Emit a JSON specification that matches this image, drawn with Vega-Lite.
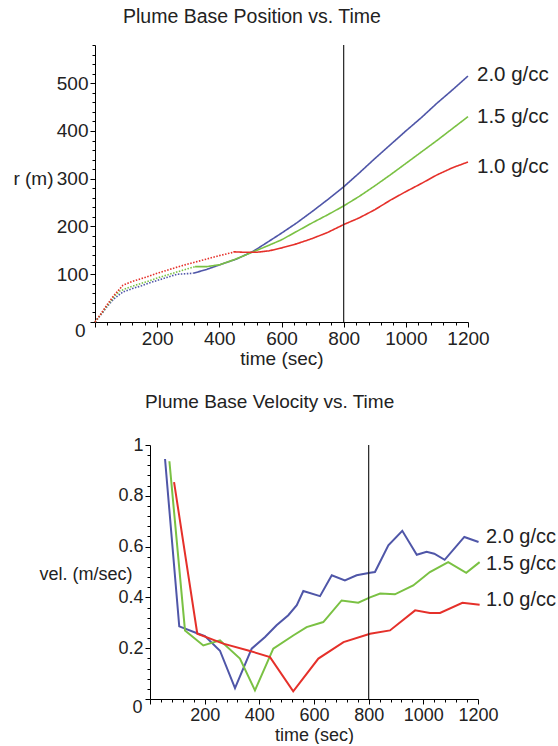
{
  "$schema": "https://vega.github.io/schema/vega-lite/v6.json",
  "padding": {"left": 12, "top": 6, "right": 0, "bottom": 0},
  "spacing": 25,
  "datasets": {
    "pos": [
      {"t": 0, "r": 0, "s": "2.0 g/cc", "seg": "dotted"},
      {"t": 20, "r": 16, "s": "2.0 g/cc", "seg": "dotted"},
      {"t": 40, "r": 33, "s": "2.0 g/cc", "seg": "dotted"},
      {"t": 60, "r": 48, "s": "2.0 g/cc", "seg": "dotted"},
      {"t": 90, "r": 63, "s": "2.0 g/cc", "seg": "dotted"},
      {"t": 120, "r": 70, "s": "2.0 g/cc", "seg": "dotted"},
      {"t": 150, "r": 76, "s": "2.0 g/cc", "seg": "dotted"},
      {"t": 190, "r": 85, "s": "2.0 g/cc", "seg": "dotted"},
      {"t": 230, "r": 93, "s": "2.0 g/cc", "seg": "dotted"},
      {"t": 264, "r": 100, "s": "2.0 g/cc", "seg": "dotted"},
      {"t": 290, "r": 101, "s": "2.0 g/cc", "seg": "dotted"},
      {"t": 316, "r": 102, "s": "2.0 g/cc", "seg": "dotted"},
      {"t": 316, "r": 102, "s": "2.0 g/cc", "seg": "solid"},
      {"t": 359, "r": 110, "s": "2.0 g/cc", "seg": "solid"},
      {"t": 402, "r": 120, "s": "2.0 g/cc", "seg": "solid"},
      {"t": 456, "r": 132, "s": "2.0 g/cc", "seg": "solid"},
      {"t": 509, "r": 148, "s": "2.0 g/cc", "seg": "solid"},
      {"t": 550, "r": 165, "s": "2.0 g/cc", "seg": "solid"},
      {"t": 600, "r": 186, "s": "2.0 g/cc", "seg": "solid"},
      {"t": 650, "r": 208, "s": "2.0 g/cc", "seg": "solid"},
      {"t": 700, "r": 232, "s": "2.0 g/cc", "seg": "solid"},
      {"t": 750, "r": 257, "s": "2.0 g/cc", "seg": "solid"},
      {"t": 800, "r": 283, "s": "2.0 g/cc", "seg": "solid"},
      {"t": 850, "r": 312, "s": "2.0 g/cc", "seg": "solid"},
      {"t": 900, "r": 342, "s": "2.0 g/cc", "seg": "solid"},
      {"t": 950, "r": 371, "s": "2.0 g/cc", "seg": "solid"},
      {"t": 1000, "r": 400, "s": "2.0 g/cc", "seg": "solid"},
      {"t": 1050, "r": 428, "s": "2.0 g/cc", "seg": "solid"},
      {"t": 1100, "r": 458, "s": "2.0 g/cc", "seg": "solid"},
      {"t": 1150, "r": 486, "s": "2.0 g/cc", "seg": "solid"},
      {"t": 1200, "r": 515, "s": "2.0 g/cc", "seg": "solid"},
      {"t": 0, "r": 0, "s": "1.5 g/cc", "seg": "dotted"},
      {"t": 20, "r": 17, "s": "1.5 g/cc", "seg": "dotted"},
      {"t": 40, "r": 35, "s": "1.5 g/cc", "seg": "dotted"},
      {"t": 60, "r": 52, "s": "1.5 g/cc", "seg": "dotted"},
      {"t": 80, "r": 65, "s": "1.5 g/cc", "seg": "dotted"},
      {"t": 120, "r": 75, "s": "1.5 g/cc", "seg": "dotted"},
      {"t": 160, "r": 83, "s": "1.5 g/cc", "seg": "dotted"},
      {"t": 200, "r": 92, "s": "1.5 g/cc", "seg": "dotted"},
      {"t": 240, "r": 100, "s": "1.5 g/cc", "seg": "dotted"},
      {"t": 280, "r": 108, "s": "1.5 g/cc", "seg": "dotted"},
      {"t": 322, "r": 116, "s": "1.5 g/cc", "seg": "dotted"},
      {"t": 322, "r": 116, "s": "1.5 g/cc", "seg": "solid"},
      {"t": 360, "r": 116, "s": "1.5 g/cc", "seg": "solid"},
      {"t": 402, "r": 120, "s": "1.5 g/cc", "seg": "solid"},
      {"t": 450, "r": 131, "s": "1.5 g/cc", "seg": "solid"},
      {"t": 509, "r": 147, "s": "1.5 g/cc", "seg": "solid"},
      {"t": 550, "r": 158, "s": "1.5 g/cc", "seg": "solid"},
      {"t": 600, "r": 172, "s": "1.5 g/cc", "seg": "solid"},
      {"t": 650, "r": 190, "s": "1.5 g/cc", "seg": "solid"},
      {"t": 700, "r": 208, "s": "1.5 g/cc", "seg": "solid"},
      {"t": 750, "r": 225, "s": "1.5 g/cc", "seg": "solid"},
      {"t": 800, "r": 243, "s": "1.5 g/cc", "seg": "solid"},
      {"t": 850, "r": 263, "s": "1.5 g/cc", "seg": "solid"},
      {"t": 900, "r": 285, "s": "1.5 g/cc", "seg": "solid"},
      {"t": 950, "r": 308, "s": "1.5 g/cc", "seg": "solid"},
      {"t": 1000, "r": 332, "s": "1.5 g/cc", "seg": "solid"},
      {"t": 1050, "r": 356, "s": "1.5 g/cc", "seg": "solid"},
      {"t": 1100, "r": 380, "s": "1.5 g/cc", "seg": "solid"},
      {"t": 1150, "r": 405, "s": "1.5 g/cc", "seg": "solid"},
      {"t": 1200, "r": 430, "s": "1.5 g/cc", "seg": "solid"},
      {"t": 0, "r": 0, "s": "1.0 g/cc", "seg": "dotted"},
      {"t": 20, "r": 18, "s": "1.0 g/cc", "seg": "dotted"},
      {"t": 40, "r": 37, "s": "1.0 g/cc", "seg": "dotted"},
      {"t": 60, "r": 55, "s": "1.0 g/cc", "seg": "dotted"},
      {"t": 90, "r": 77, "s": "1.0 g/cc", "seg": "dotted"},
      {"t": 120, "r": 85, "s": "1.0 g/cc", "seg": "dotted"},
      {"t": 160, "r": 93, "s": "1.0 g/cc", "seg": "dotted"},
      {"t": 200, "r": 102, "s": "1.0 g/cc", "seg": "dotted"},
      {"t": 240, "r": 110, "s": "1.0 g/cc", "seg": "dotted"},
      {"t": 280, "r": 118, "s": "1.0 g/cc", "seg": "dotted"},
      {"t": 320, "r": 125, "s": "1.0 g/cc", "seg": "dotted"},
      {"t": 360, "r": 132, "s": "1.0 g/cc", "seg": "dotted"},
      {"t": 400, "r": 139, "s": "1.0 g/cc", "seg": "dotted"},
      {"t": 445, "r": 146, "s": "1.0 g/cc", "seg": "dotted"},
      {"t": 445, "r": 147, "s": "1.0 g/cc", "seg": "solid"},
      {"t": 480, "r": 146, "s": "1.0 g/cc", "seg": "solid"},
      {"t": 520, "r": 146, "s": "1.0 g/cc", "seg": "solid"},
      {"t": 560, "r": 149, "s": "1.0 g/cc", "seg": "solid"},
      {"t": 600, "r": 155, "s": "1.0 g/cc", "seg": "solid"},
      {"t": 650, "r": 164, "s": "1.0 g/cc", "seg": "solid"},
      {"t": 700, "r": 175, "s": "1.0 g/cc", "seg": "solid"},
      {"t": 750, "r": 188, "s": "1.0 g/cc", "seg": "solid"},
      {"t": 800, "r": 204, "s": "1.0 g/cc", "seg": "solid"},
      {"t": 850, "r": 218, "s": "1.0 g/cc", "seg": "solid"},
      {"t": 900, "r": 235, "s": "1.0 g/cc", "seg": "solid"},
      {"t": 950, "r": 255, "s": "1.0 g/cc", "seg": "solid"},
      {"t": 1000, "r": 273, "s": "1.0 g/cc", "seg": "solid"},
      {"t": 1050, "r": 290, "s": "1.0 g/cc", "seg": "solid"},
      {"t": 1100, "r": 308, "s": "1.0 g/cc", "seg": "solid"},
      {"t": 1150, "r": 323, "s": "1.0 g/cc", "seg": "solid"},
      {"t": 1200, "r": 335, "s": "1.0 g/cc", "seg": "solid"}
    ],
    "poslab": [
      {"t": 1200, "r": 517, "s": "2.0 g/cc"},
      {"t": 1200, "r": 429, "s": "1.5 g/cc"},
      {"t": 1200, "r": 325, "s": "1.0 g/cc"}
    ],
    "vel": [
      {"t": 55, "v": 0.945, "s": "2.0 g/cc"},
      {"t": 107, "v": 0.286, "s": "2.0 g/cc"},
      {"t": 177, "v": 0.257, "s": "2.0 g/cc"},
      {"t": 201, "v": 0.248, "s": "2.0 g/cc"},
      {"t": 256, "v": 0.19, "s": "2.0 g/cc"},
      {"t": 311, "v": 0.043, "s": "2.0 g/cc"},
      {"t": 372, "v": 0.198, "s": "2.0 g/cc"},
      {"t": 421, "v": 0.244, "s": "2.0 g/cc"},
      {"t": 463, "v": 0.29, "s": "2.0 g/cc"},
      {"t": 506, "v": 0.33, "s": "2.0 g/cc"},
      {"t": 537, "v": 0.369, "s": "2.0 g/cc"},
      {"t": 561, "v": 0.425, "s": "2.0 g/cc"},
      {"t": 622, "v": 0.405, "s": "2.0 g/cc"},
      {"t": 665, "v": 0.487, "s": "2.0 g/cc"},
      {"t": 713, "v": 0.467, "s": "2.0 g/cc"},
      {"t": 756, "v": 0.487, "s": "2.0 g/cc"},
      {"t": 805, "v": 0.497, "s": "2.0 g/cc"},
      {"t": 823, "v": 0.5, "s": "2.0 g/cc"},
      {"t": 872, "v": 0.605, "s": "2.0 g/cc"},
      {"t": 923, "v": 0.662, "s": "2.0 g/cc"},
      {"t": 976, "v": 0.568, "s": "2.0 g/cc"},
      {"t": 1012, "v": 0.58, "s": "2.0 g/cc"},
      {"t": 1040, "v": 0.572, "s": "2.0 g/cc"},
      {"t": 1078, "v": 0.548, "s": "2.0 g/cc"},
      {"t": 1150, "v": 0.638, "s": "2.0 g/cc"},
      {"t": 1202, "v": 0.618, "s": "2.0 g/cc"},
      {"t": 71, "v": 0.936, "s": "1.5 g/cc"},
      {"t": 128, "v": 0.27, "s": "1.5 g/cc"},
      {"t": 195, "v": 0.211, "s": "1.5 g/cc"},
      {"t": 256, "v": 0.231, "s": "1.5 g/cc"},
      {"t": 329, "v": 0.159, "s": "1.5 g/cc"},
      {"t": 384, "v": 0.034, "s": "1.5 g/cc"},
      {"t": 451, "v": 0.198, "s": "1.5 g/cc"},
      {"t": 524, "v": 0.25, "s": "1.5 g/cc"},
      {"t": 573, "v": 0.283, "s": "1.5 g/cc"},
      {"t": 634, "v": 0.303, "s": "1.5 g/cc"},
      {"t": 701, "v": 0.388, "s": "1.5 g/cc"},
      {"t": 762, "v": 0.379, "s": "1.5 g/cc"},
      {"t": 805, "v": 0.4, "s": "1.5 g/cc"},
      {"t": 842, "v": 0.415, "s": "1.5 g/cc"},
      {"t": 896, "v": 0.412, "s": "1.5 g/cc"},
      {"t": 963, "v": 0.447, "s": "1.5 g/cc"},
      {"t": 1024, "v": 0.5, "s": "1.5 g/cc"},
      {"t": 1091, "v": 0.539, "s": "1.5 g/cc"},
      {"t": 1157, "v": 0.497, "s": "1.5 g/cc"},
      {"t": 1206, "v": 0.539, "s": "1.5 g/cc"},
      {"t": 88, "v": 0.854, "s": "1.0 g/cc"},
      {"t": 173, "v": 0.257, "s": "1.0 g/cc"},
      {"t": 268, "v": 0.218, "s": "1.0 g/cc"},
      {"t": 366, "v": 0.189, "s": "1.0 g/cc"},
      {"t": 439, "v": 0.165, "s": "1.0 g/cc"},
      {"t": 524, "v": 0.03, "s": "1.0 g/cc"},
      {"t": 616, "v": 0.159, "s": "1.0 g/cc"},
      {"t": 708, "v": 0.224, "s": "1.0 g/cc"},
      {"t": 805, "v": 0.257, "s": "1.0 g/cc"},
      {"t": 878, "v": 0.27, "s": "1.0 g/cc"},
      {"t": 970, "v": 0.349, "s": "1.0 g/cc"},
      {"t": 1024, "v": 0.339, "s": "1.0 g/cc"},
      {"t": 1061, "v": 0.339, "s": "1.0 g/cc"},
      {"t": 1143, "v": 0.379, "s": "1.0 g/cc"},
      {"t": 1206, "v": 0.371, "s": "1.0 g/cc"}
    ],
    "vellab": [
      {"t": 1200, "v": 0.638, "s": "2.0 g/cc"},
      {"t": 1200, "v": 0.53, "s": "1.5 g/cc"},
      {"t": 1200, "v": 0.39, "s": "1.0 g/cc"}
    ],
    "marker": [{"t": 800}]
  },
  "vconcat": [
    {
      "width": 373,
      "height": 277,
      "title": {"text": "Plume Base Position vs. Time", "anchor": "start", "frame": "group", "dx": 28, "fontSize": 19.5, "offset": 9},
      "layer": [
        {
          "data": {"name": "pos"},
          "mark": {"type": "line", "strokeWidth": 1.6},
          "encoding": {
            "x": {
              "field": "t", "type": "quantitative",
              "scale": {"domain": [0, 1200], "nice": false},
              "axis": {
                "tickCount": 200,
                "values": [0,40,80,120,160,200,240,280,320,360,400,440,480,520,560,600,640,680,720,760,800,840,880,920,960,1000,1040,1080,1120,1160,1200],
                "labelExpr": "datum.value % 200 === 0 ? datum.value + '' : ''",
                "tickSize": {"condition": {"test": "datum.value % 200 === 0", "value": 5}, "value": 3},
                "labelAlign": {"condition": {"test": "datum.value === 0", "value": "right"}, "value": "center"},
                "labelOffset": {"condition": {"test": "datum.value === 0", "value": -10}, "value": 0},
                "labelPadding": {"condition": {"test": "datum.value === 0", "value": -6}, "value": 2},
                "labelFontSize": 19,
                "title": "time (sec)", "titleFontSize": 19, "titlePadding": 1
              }
            },
            "y": {
              "field": "r", "type": "quantitative",
              "scale": {"domain": [0, 580], "nice": false},
              "axis": {
                "tickCount": 200,
                "values": [0,20,40,60,80,100,120,140,160,180,200,220,240,260,280,300,320,340,360,380,400,420,440,460,480,500,520,540,560,580],
                "labelExpr": "datum.value % 100 === 0 && datum.value > 0 ? datum.value + '' : ''",
                "tickSize": {"condition": {"test": "datum.value % 100 === 0", "value": 5}, "value": 3},
                "labelFontSize": 19, "labelPadding": 2,
                "title": "r (m)", "titleFontSize": 19, "titleAngle": 0, "titleAlign": "right", "titleBaseline": "middle",
                "titleX": -42, "titleY": 133
              }
            },
            "color": {"field": "s", "type": "nominal", "scale": {"domain": ["2.0 g/cc", "1.5 g/cc", "1.0 g/cc"], "range": ["#4f56a8", "#7ac143", "#e5302a"]}, "legend": null},
            "strokeDash": {"field": "seg", "type": "nominal", "scale": {"domain": ["dotted", "solid"], "range": [[1.5, 1.5], [1, 0]]}, "legend": null}
          }
        },
        {
          "data": {"name": "marker"},
          "mark": {"type": "rule", "color": "#222", "strokeWidth": 1.2},
          "encoding": {"x": {"field": "t", "type": "quantitative"}}
        },
        {
          "data": {"name": "poslab"},
          "mark": {"type": "text", "align": "left", "baseline": "middle", "dx": 9, "fontSize": 20.5, "color": "#222"},
          "encoding": {
            "x": {"field": "t", "type": "quantitative"},
            "y": {"field": "r", "type": "quantitative"},
            "text": {"field": "s"}
          }
        }
      ]
    },
    {
      "bounds": "flush",
      "spacing": 0,
      "hconcat": [
        {"width": 55, "height": 254, "data": {"values": []}, "mark": "point"},
        {
          "width": 328,
          "height": 254,
          "title": {"text": "Plume Base Velocity vs. Time", "anchor": "start", "frame": "group", "dx": -5, "fontSize": 19, "offset": 24},
          "layer": [
            {
              "data": {"name": "vel"},
              "mark": {"type": "line", "strokeWidth": 2},
              "encoding": {
                "x": {
                  "field": "t", "type": "quantitative",
                  "scale": {"domain": [0, 1200], "nice": false},
                  "axis": {
                    "tickCount": 200,
                    "values": [0,40,80,120,160,200,240,280,320,360,400,440,480,520,560,600,640,680,720,760,800,840,880,920,960,1000,1040,1080,1120,1160,1200],
                    "labelExpr": "datum.value % 200 === 0 ? datum.value + '' : ''",
                    "tickSize": {"condition": {"test": "datum.value % 200 === 0", "value": 5}, "value": 3},
                    "labelAlign": {"condition": {"test": "datum.value === 0", "value": "right"}, "value": "center"},
                    "labelOffset": {"condition": {"test": "datum.value === 0", "value": -8}, "value": 0},
                    "labelPadding": {"condition": {"test": "datum.value === 0", "value": -6}, "value": 2},
                    "labelFontSize": 18,
                    "title": "time (sec)", "titleFontSize": 18, "titlePadding": 2
                  }
                },
                "y": {
                  "field": "v", "type": "quantitative",
                  "scale": {"domain": [0, 1], "nice": false},
                  "axis": {
                    "tickCount": 200,
                    "values": [0,0.04,0.08,0.12,0.16,0.2,0.24,0.28,0.32,0.36,0.4,0.44,0.48,0.52,0.56,0.6,0.64,0.68,0.72,0.76,0.8,0.84,0.88,0.92,0.96,1],
                    "labelExpr": "abs(datum.value * 5 - round(datum.value * 5)) < 0.000001 && datum.value > 0 ? format(datum.value, '.1~f') : ''",
                    "tickSize": {"condition": {"test": "abs(datum.value * 5 - round(datum.value * 5)) < 0.000001", "value": 5}, "value": 3},
                    "labelFontSize": 18, "labelPadding": 2,
                    "title": "vel. (m/sec)", "titleFontSize": 18, "titleAngle": 0, "titleAlign": "right", "titleBaseline": "middle",
                    "titleX": -18, "titleY": 129
                  }
                },
                "color": {"field": "s", "type": "nominal", "scale": {"domain": ["2.0 g/cc", "1.5 g/cc", "1.0 g/cc"], "range": ["#4f56a8", "#7ac143", "#e5302a"]}, "legend": null}
              }
            },
            {
              "data": {"name": "marker"},
              "mark": {"type": "rule", "color": "#222", "strokeWidth": 1.2},
              "encoding": {"x": {"field": "t", "type": "quantitative"}}
            },
            {
              "data": {"name": "vellab"},
              "mark": {"type": "text", "align": "left", "baseline": "middle", "dx": 8, "fontSize": 20, "color": "#222"},
              "encoding": {
                "x": {"field": "t", "type": "quantitative"},
                "y": {"field": "v", "type": "quantitative"},
                "text": {"field": "s"}
              }
            }
          ]
        }
      ]
    }
  ],
  "config": {
    "font": "Liberation Sans",
    "view": {"stroke": null},
    "axis": {"grid": false, "domainColor": "#000", "tickColor": "#000", "labelColor": "#222", "titleColor": "#222", "titleFontWeight": "normal", "labelFlush": false, "labelOverlap": false},
    "title": {"fontWeight": "normal", "color": "#222"}
  }
}
